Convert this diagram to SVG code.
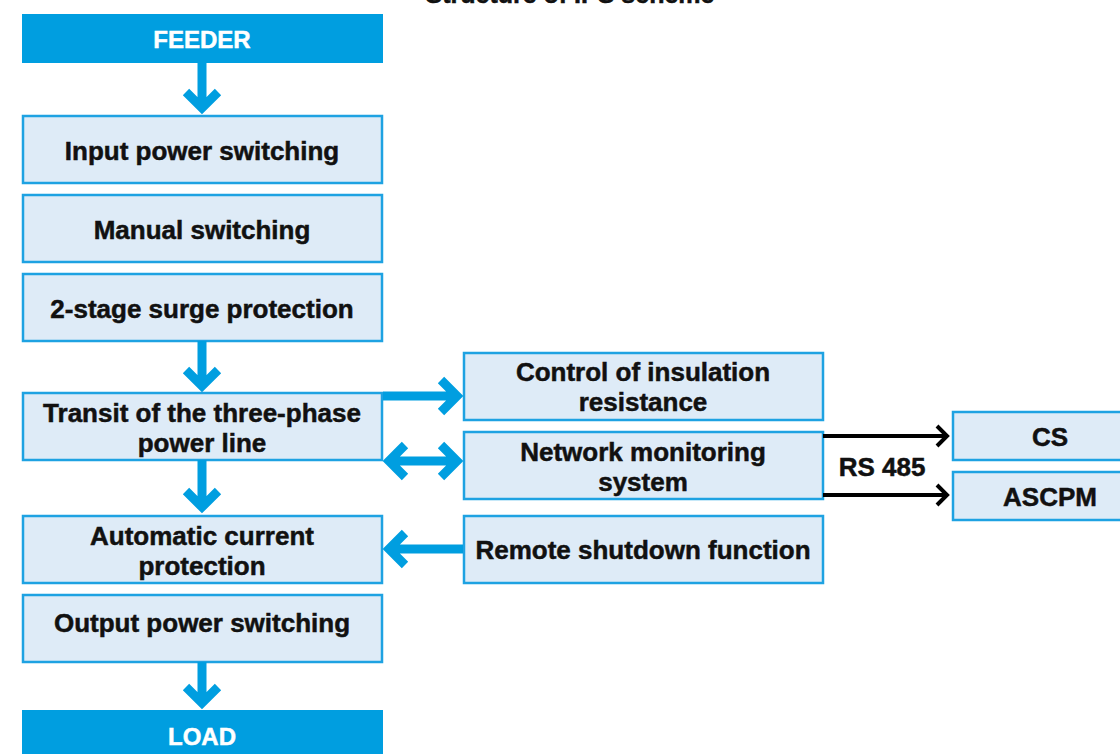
<svg xmlns="http://www.w3.org/2000/svg" width="1120" height="754" viewBox="0 0 1120 754">
  <style>
    .head{fill:#009ee0}
    .box{fill:#deebf7;stroke:#1ea2e2;stroke-width:2.5}
    .t{font-family:"Liberation Sans",Arial,sans-serif;font-weight:700;font-size:26px;fill:#111;stroke:#111;stroke-width:0.5;text-anchor:middle}
    .tw{font-family:"Liberation Sans",Arial,sans-serif;font-weight:700;font-size:24px;fill:#fff;stroke:#fff;stroke-width:0.5;text-anchor:middle}
    .ba{fill:none;stroke:#009ee0;stroke-width:9}
    .bk{fill:none;stroke:#000;stroke-width:4}
  </style>
  <rect width="1120" height="754" fill="#fff"/>
  <text class="t" x="570" y="3" style="font-size:25px">Structure of IPS scheme</text>

  <g id="feeder"><rect class="head" x="22" y="14" width="361" height="49"/><text class="tw" x="202" y="48">FEEDER</text></g>
  <g id="input"><rect class="box" x="23" y="116" width="359" height="67"/><text class="t" x="202" y="160">Input power switching</text></g>
  <g id="manual"><rect class="box" x="23" y="195" width="359" height="67"/><text class="t" x="202" y="239">Manual switching</text></g>
  <g id="surge"><rect class="box" x="23" y="274" width="359" height="67"/><text class="t" x="202" y="318">2-stage surge protection</text></g>
  <g id="transit"><rect class="box" x="23" y="393" width="359" height="67"/><text class="t" x="202" y="422">Transit of the three-phase<tspan x="202" dy="29.5">power line</tspan></text></g>
  <g id="acp"><rect class="box" x="23" y="516" width="359" height="67"/><text class="t" x="202" y="545">Automatic current<tspan x="202" dy="29.5">protection</tspan></text></g>
  <g id="output"><rect class="box" x="23" y="595" width="359" height="67"/><text class="t" x="202" y="632">Output power switching</text></g>
  <g id="load"><rect class="head" x="22" y="710" width="361" height="50"/><text class="tw" x="202" y="745">LOAD</text></g>

  <g id="insulation"><rect class="box" x="464" y="353" width="359" height="67"/><text class="t" x="643" y="381">Control of insulation<tspan x="643" dy="29.5">resistance</tspan></text></g>
  <g id="monitoring"><rect class="box" x="464" y="432" width="359" height="67"/><text class="t" x="643" y="461">Network monitoring<tspan x="643" dy="29.5">system</tspan></text></g>
  <g id="remote"><rect class="box" x="464" y="516" width="359" height="67"/><text class="t" x="643" y="559">Remote shutdown function</text></g>
  <g id="cs"><rect class="box" x="953" y="412" width="170" height="48"/><text class="t" x="1050" y="446">CS</text></g>
  <g id="ascpm"><rect class="box" x="953" y="472" width="170" height="48"/><text class="t" x="1050" y="506">ASCPM</text></g>

  <g id="connectors">
    <path class="ba" d="M202 63V108M186 92l16 16l16-16"/>
    <path class="ba" d="M202 341V386M186 370l16 16l16-16"/>
    <path class="ba" d="M202 460V507M186 491l16 16l16-16"/>
    <path class="ba" d="M202 662V703M186 687l16 16l16-16"/>
    <path class="ba" d="M383 396H457M441 380l16 16l-16 16"/>
    <path class="ba" d="M389 461H457M441 445l16 16l-16 16M405 445l-16 16l16 16"/>
    <path class="ba" d="M463 549H389M405 533l-16 16l16 16"/>
    <path class="bk" d="M823 436H947M937 426l10 10l-10 10"/>
    <path class="bk" d="M823 495H947M937 485l10 10l-10 10"/>
    <text class="t" x="882" y="476" style="font-size:26px">RS 485</text>
  </g>
</svg>
